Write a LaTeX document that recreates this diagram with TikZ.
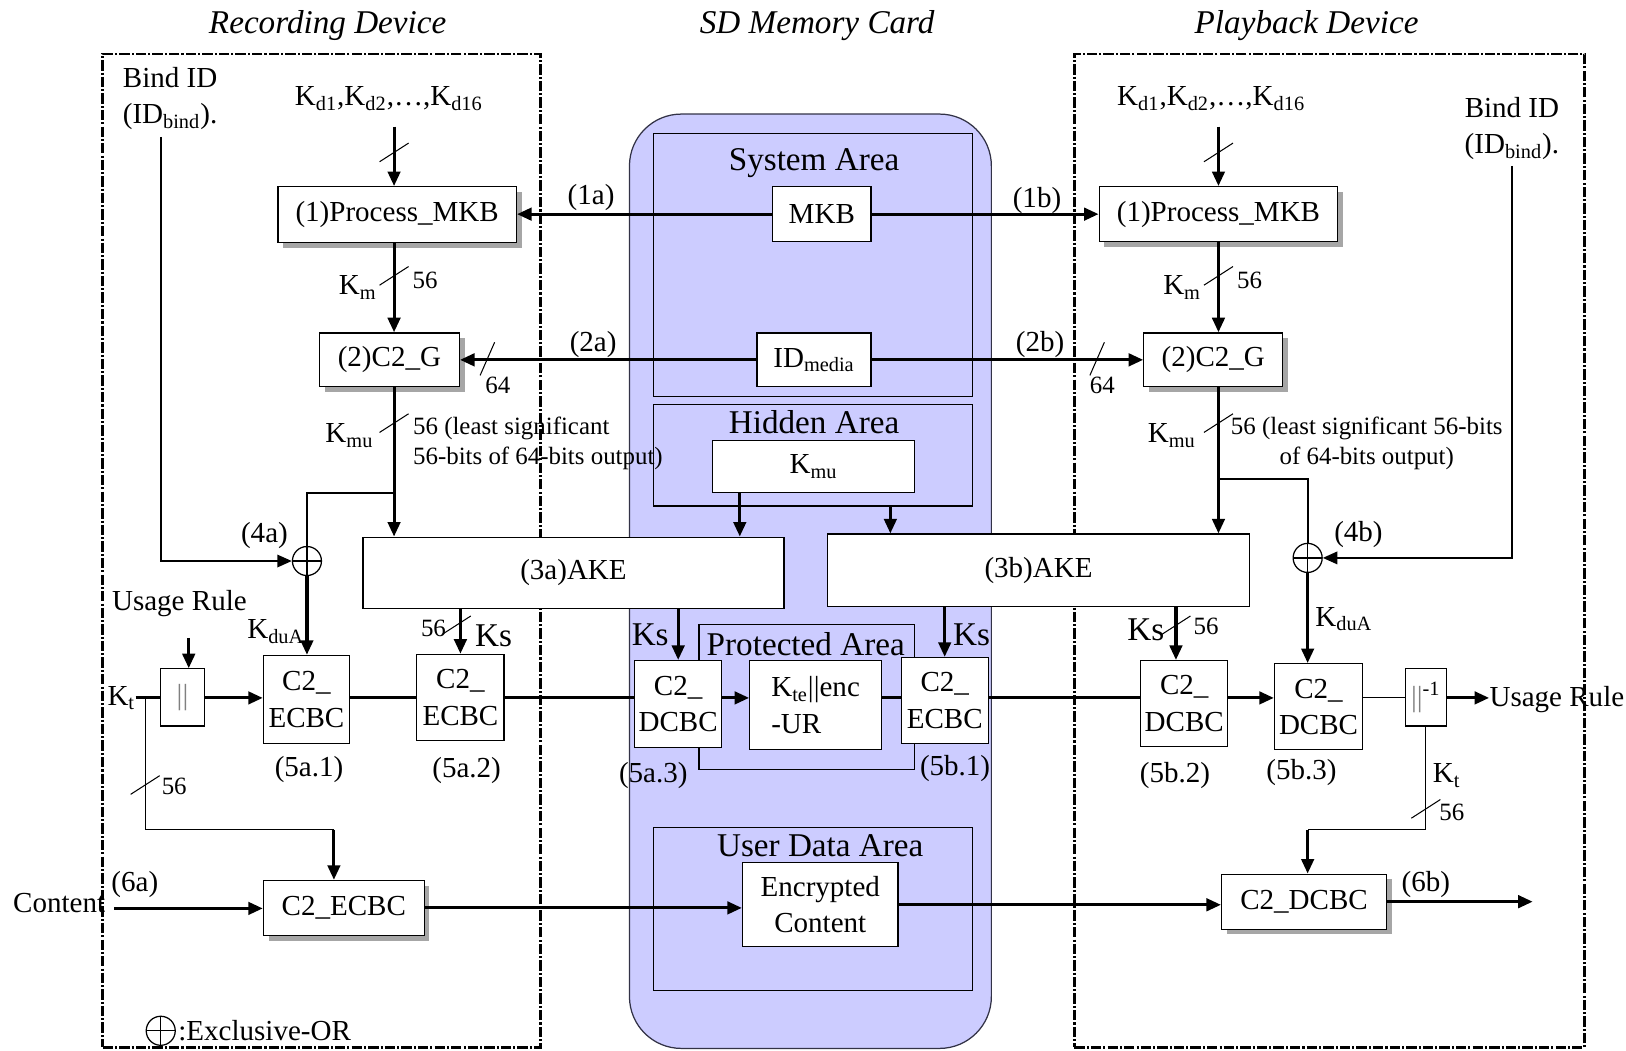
\documentclass[tikz,border=0pt]{standalone}
\usepackage{fontspec}
\setmainfont{Liberation Serif}
\usetikzlibrary{arrows.meta,fit,shadows,calc}
\definecolor{cardfill}{RGB}{204,204,255}
\definecolor{cardline}{RGB}{50,50,70}
\newcommand\bitmark[1]{\draw[bitl] ($(#1)+(-14,9)$) -- ($(#1)+(14,-9)$);}
\newcommand\bitmarksteep[1]{\draw[bitl] ($(#1)+(-7,16)$) -- ($(#1)+(7,-16)$);}
\begin{document}
\begin{tikzpicture}[x=0.5pt,y=-0.5pt,
  font=\fontsize{14}{17.5}\selectfont,
  box/.style={draw, fill=white, line width=0.6pt, inner sep=0pt, align=center},
  sbox/.style={box, drop shadow={shadow xshift=2.5pt, shadow yshift=-2.5pt, fill=black!35, opacity=1}},
  sz/.style 2 args={minimum width=#1, minimum height=#2},
  area/.style={draw, line width=0.6pt, inner sep=0pt},
  dev/.style={draw, line width=1.2pt, inner sep=0pt, dash pattern=on 5pt off 1pt on 1pt off 1pt},
  arr/.style={line width=1.5pt, -{Triangle[length=7pt,width=6pt]}},
  ln/.style={line width=1.5pt},
  med/.style={line width=0.9pt},
  thinl/.style={line width=0.55pt},
  bitl/.style={line width=0.5pt},
  lbl/.style={inner sep=0pt},
  sm/.style={inner sep=0pt, font=\fontsize{12}{14.5}\selectfont},
  big/.style={inner sep=0pt, font=\fontsize{16}{19}\selectfont},
  tit/.style={inner sep=0pt, font=\fontsize{16}{19}\selectfont\itshape},
  xor/.style={circle, draw, fill=white, line width=0.6pt, minimum size=14pt, inner sep=0pt,
    path picture={\draw[line width=0.6pt] (path picture bounding box.north) -- (path picture bounding box.south)
      (path picture bounding box.west) -- (path picture bounding box.east);}}
]
\useasboundingbox (0,0) rectangle (1568,1013);

% ---------- backgrounds ----------
\node[draw=cardline, fill=cardfill, rounded corners=25pt, line width=0.6pt, inner sep=0pt,
      fit={(607,110) (956,1011)}] (card) {};
\node[area, fit={(630,129) (938,382)}] (sys) {};
\node[area, fit={(630,390) (938,488)}] (hid) {};
\node[area, fit={(674,602) (882,742)}] (prot) {};
\node[area, fit={(630,798) (938,955)}] (uda) {};
\node[dev, fit={(99,52) (521,1010)}] (dev1) {};
\node[dev, fit={(1036,52) (1528,1010)}] (dev2) {};

\node[big] (lsys) at (785,157) {System Area};
\node[big] (lhid) at (785,407) {Hidden Area};
\node[big] (lprot) at (777,621) {Protected Area};
\node[big] (luda) at (791,816) {User Data Area};

% ---------- titles ----------
\node[tit] (t1) at (316,25) {Recording Device};
\node[tit] (t2) at (788,25) {SD Memory Card};
\node[tit] (t3) at (1260,25) {Playback Device};

% ---------- boxes ----------
\node[sbox, sz={115pt}{27pt}] (pm1) at (383,207) {(1)Process\_MKB};
\node[sbox, sz={67.5pt}{26pt}] (cg1) at (375.5,347) {(2)C2\_G};
\node[sbox, sz={115pt}{26.5pt}] (pm2) at (1175,206.5) {(1)Process\_MKB};
\node[sbox, sz={67pt}{26pt}] (cg2) at (1170,347) {(2)C2\_G};
\node[box, sz={47.5pt}{26.5pt}] (mkb) at (792.5,206.5) {MKB};
\node[box, sz={55pt}{26pt}] (idm) at (785,347) {ID\textsubscript{media}};
\node[box, sz={97.5pt}{25pt}] (kmu) at (784.5,450) {K\textsubscript{mu}};
\node[box, sz={203pt}{34.5pt}] (ake1) at (553,552.5) {(3a)AKE};
\node[box, sz={203.5pt}{35pt}] (ake2) at (1001.5,550) {(3b)AKE};
\node[box, sz={21pt}{27.5pt}] (cat) at (176,672.5) {\color{gray}||};
\node[box, sz={41.5pt}{42.5pt}] (e51) at (295.5,674.5) {C2\_\\ECBC};
\node[box, sz={42pt}{41.5pt}] (e52) at (444,672.5) {C2\_\\ECBC};
\node[box, sz={42pt}{42pt}] (d53) at (654,679) {C2\_\\DCBC};
\node[box, sz={63.5pt}{43pt}, align=left] (kte) at (786.5,680) {K\textsubscript{te}||enc\\-UR};
\node[box, sz={42pt}{41.5pt}] (e5b1) at (911,675.5) {C2\_\\ECBC};
\node[box, sz={42pt}{41.5pt}] (d5b2) at (1142,678.5) {C2\_\\DCBC};
\node[box, sz={42.5pt}{41.5pt}] (d5b3) at (1271.5,681.5) {C2\_\\DCBC};
\node[box, sz={20pt}{27.5pt}] (inv) at (1375,672.5) {{\color{gray}||}\textsuperscript{-1}};
\node[sbox, sz={77.5pt}{26.5pt}] (e6a) at (331.5,875.5) {C2\_ECBC};
\node[box, sz={75pt}{40.5pt}] (enc) at (791,872.5) {Encrypted\\Content};
\node[sbox, sz={79.5pt}{26.5pt}] (d6b) at (1257.5,869.5) {C2\_DCBC};
\node[xor] (xa) at (296,541) {};
\node[xor] (xb) at (1261,538) {};

% ---------- text labels ----------
\node[lbl, align=center] (bind1) at (164,95) {Bind ID\\(ID\textsubscript{bind}).};
\node[lbl, align=center] (bind2) at (1458,124) {Bind ID\\(ID\textsubscript{bind}).};
\node[lbl] (kd1) at (375,95) {K\textsubscript{d1},K\textsubscript{d2},…,K\textsubscript{d16}};
\node[lbl] (kd2) at (1168,95) {K\textsubscript{d1},K\textsubscript{d2},…,K\textsubscript{d16}};
\node[lbl] (l1a) at (570,190) {(1a)};
\node[lbl] (l1b) at (1000,193) {(1b)};
\node[lbl] (l2a) at (572,332) {(2a)};
\node[lbl] (l2b) at (1003,332) {(2b)};
\node[lbl] (km1) at (345,277) {K\textsubscript{m}};
\node[sm] (n56a) at (410,270) {56};
\node[lbl] (km2) at (1140,277) {K\textsubscript{m}};
\node[sm] (n56b) at (1205,270) {56};
\node[sm] (n64a) at (480,372) {64};
\node[sm] (n64b) at (1063,372) {64};
\node[lbl] (kmu1) at (337,420) {K\textsubscript{mu}};
\node[lbl] (kmu2) at (1130,420) {K\textsubscript{mu}};
\node[sm, anchor=west, align=left] (lsb1) at (398,428) {56 (least significant\\56-bits of 64-bits output)};
\node[sm, align=center] (lsb2) at (1318,428) {56 (least significant 56-bits\\of 64-bits output)};
\node[lbl] (l4a) at (255,516) {(4a)};
\node[lbl] (l4b) at (1310,515) {(4b)};
\node[lbl] (kdua1) at (266,609) {K\textsubscript{duA}};
\node[lbl] (kdua2) at (1296,597) {K\textsubscript{duA}};
\node[lbl] (ur1) at (173,582) {Usage Rule};
\node[lbl, anchor=west] (ur2) at (1436,675) {Usage Rule};
\node[lbl] (kt1) at (117,673) {K\textsubscript{t}};
\node[lbl] (kt2) at (1395,748) {K\textsubscript{t}};
\node[sm] (n56c) at (418,606) {56};
\node[big] (ks1) at (476,613) {Ks};
\node[big] (ks2) at (627,612) {Ks};
\node[big] (ks3) at (937,612) {Ks};
\node[big] (ks4) at (1105,607) {Ks};
\node[sm] (n56d) at (1163,604) {56};
\node[sm] (n56e) at (168,758) {56};
\node[sm] (n56f) at (1400,783) {56};
\node[lbl] (l51) at (298,742) {(5a.1)};
\node[lbl] (l52) at (450,743) {(5a.2)};
\node[lbl] (l53) at (630,748) {(5a.3)};
\node[lbl] (l5b1) at (921,741) {(5b.1)};
\node[lbl] (l5b2) at (1133,748) {(5b.2)};
\node[lbl] (l5b3) at (1255,745) {(5b.3)};
\node[lbl] (cont) at (57,871) {Content};
\node[lbl] (l6a) at (130,853) {(6a)};
\node[lbl] (l6b) at (1375,853) {(6b)};
\node[xor] (lx) at (155,994) {};
\node[lbl, anchor=west] (lxt) at ([xshift=1pt]lx.east) {:Exclusive-OR};

% ---------- coordinates ----------
\coordinate (colA) at (380,0);
\coordinate (colB) at (1175,0);
\coordinate (row) at (0,673);
\coordinate (kd1s) at (380,122);
\coordinate (kd2s) at (1175,122);
\coordinate (brA) at (380,475);
\coordinate (brB) at (1175,462);
\coordinate (b1top) at (155,132);
\coordinate (b2top) at (1458,160);
\coordinate (hk1) at ($(kmu.south west)+(27,0)$);
\coordinate (hk2) at ($(hid.south east)+(-80,0)$);
\coordinate (k4) at (1134,0);
\coordinate (ua) at (182,615);
\coordinate (kt1j) at (140,673);
\coordinate (k6) at (322,800);
\coordinate (k7) at (1261,800);
\coordinate (c0) at (110,876);
\coordinate (out6) at (1478,870);

% ---------- connectors ----------
\draw[arr] (kd1s) -- (colA |- pm1.north);
\draw[arr] (kd2s) -- (colB |- pm2.north);
\draw[arr] (mkb.west) -- (mkb.west -| pm1.east);
\draw[arr] (mkb.east) -- (mkb.east -| pm2.west);
\draw[arr] (colA |- pm1.south) -- (colA |- cg1.north);
\draw[arr] (colB |- pm2.south) -- (colB |- cg2.north);
\draw[arr] (idm.west) -- (idm.west -| cg1.east);
\draw[arr] (idm.east) -- (idm.east -| cg2.west);
\draw[arr] (colA |- cg1.south) -- (colA |- ake1.north);
\draw[arr] (colB |- cg2.south) -- (colB |- ake2.north);
\draw[med] (brA) -| (xa.north);
\draw[med] (brB) -| (xb.north);
\draw[arr] (xa.south) -- (xa.south |- e51.north);
\draw[arr] (xb.south) -- (xb.south |- d5b3.north);
\draw[med, -{Triangle[length=7pt,width=6pt]}] (b1top) |- (xa.west);
\draw[med, -{Triangle[length=7pt,width=6pt]}] (b2top) |- (xb.east);
\draw[arr] (hk1) -- (hk1 |- ake1.north);
\draw[arr] (hk2) -- (hk2 |- ake2.north);
\draw[arr] (ake1.south -| e52.north) -- (e52.north);
\draw[arr] (ake1.south -| d53.north) -- (d53.north);
\draw[arr] (ake2.south -| e5b1.north) -- (e5b1.north);
\draw[arr] (k4 |- ake2.south) -- (k4 |- d5b2.north);
\draw[ln] (row -| kt1.east) -- (row -| cat.west);
\draw[arr] (ua) -- (ua |- cat.north);
\draw[arr] (row -| cat.east) -- (row -| e51.west);
\draw[ln] (row -| e51.east) -- (row -| e52.west);
\draw[ln] (row -| e52.east) -- (row -| d53.west);
\draw[arr] (row -| d53.east) -- (row -| kte.west);
\draw[ln] (row -| kte.east) -- (row -| e5b1.west);
\draw[ln] (row -| e5b1.east) -- (row -| d5b2.west);
\draw[arr] (row -| d5b2.east) -- (row -| d5b3.west);
\draw[thinl] (row -| d5b3.east) -- (row -| inv.west);
\draw[arr] (row -| inv.east) -- (row -| ur2.west);
\draw[thinl] (kt1j) |- (k6);
\draw[arr] (k6) -- (k6 |- e6a.north);
\draw[thinl] (inv.south) |- (k7);
\draw[arr] (k7) -- (k7 |- d6b.north);
\draw[arr] (c0) -- (c0 -| e6a.west);
\draw[arr] (e6a.east) -- (e6a.east -| enc.west);
\draw[arr] (enc.east) -- (enc.east -| d6b.west);
\draw[arr] (d6b.east) -- (d6b.east -| out6);

% ---------- bit-width marks ----------
\bitmark{380,147}
\bitmark{1175,147}
\bitmark{380,266}
\bitmark{1175,266}
\bitmarksteep{470,346}
\bitmarksteep{1058,346}
\bitmark{380,408}
\bitmark{1175,408}
\bitmark{440,603}
\bitmark{1134,603}
\bitmark{140,757}
\bitmark{1375,780}
\end{tikzpicture}
\end{document}
